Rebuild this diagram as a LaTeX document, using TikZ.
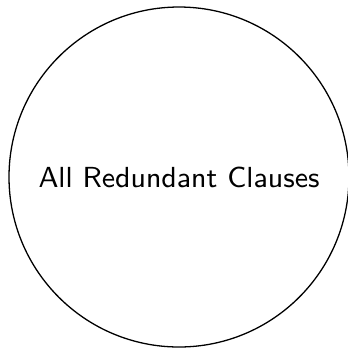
\documentclass[tikz,border=0pt]{standalone}
\usetikzlibrary{positioning}
\tikzset{every picture/.style={line width=0.4pt}}
\tikzset{clauseset/.style={circle,draw,minimum size=105.4pt,inner sep=0pt,font=\sffamily\fontsize{9}{11}\selectfont}}

\begin{document}
\begin{tikzpicture}[x=0.31pt,y=-0.31pt]
    \useasboundingbox (0,0) rectangle (348,348);
    \node[clauseset] (all) at (179,177) {All Redundant Clauses};
\end{tikzpicture}
\end{document}
